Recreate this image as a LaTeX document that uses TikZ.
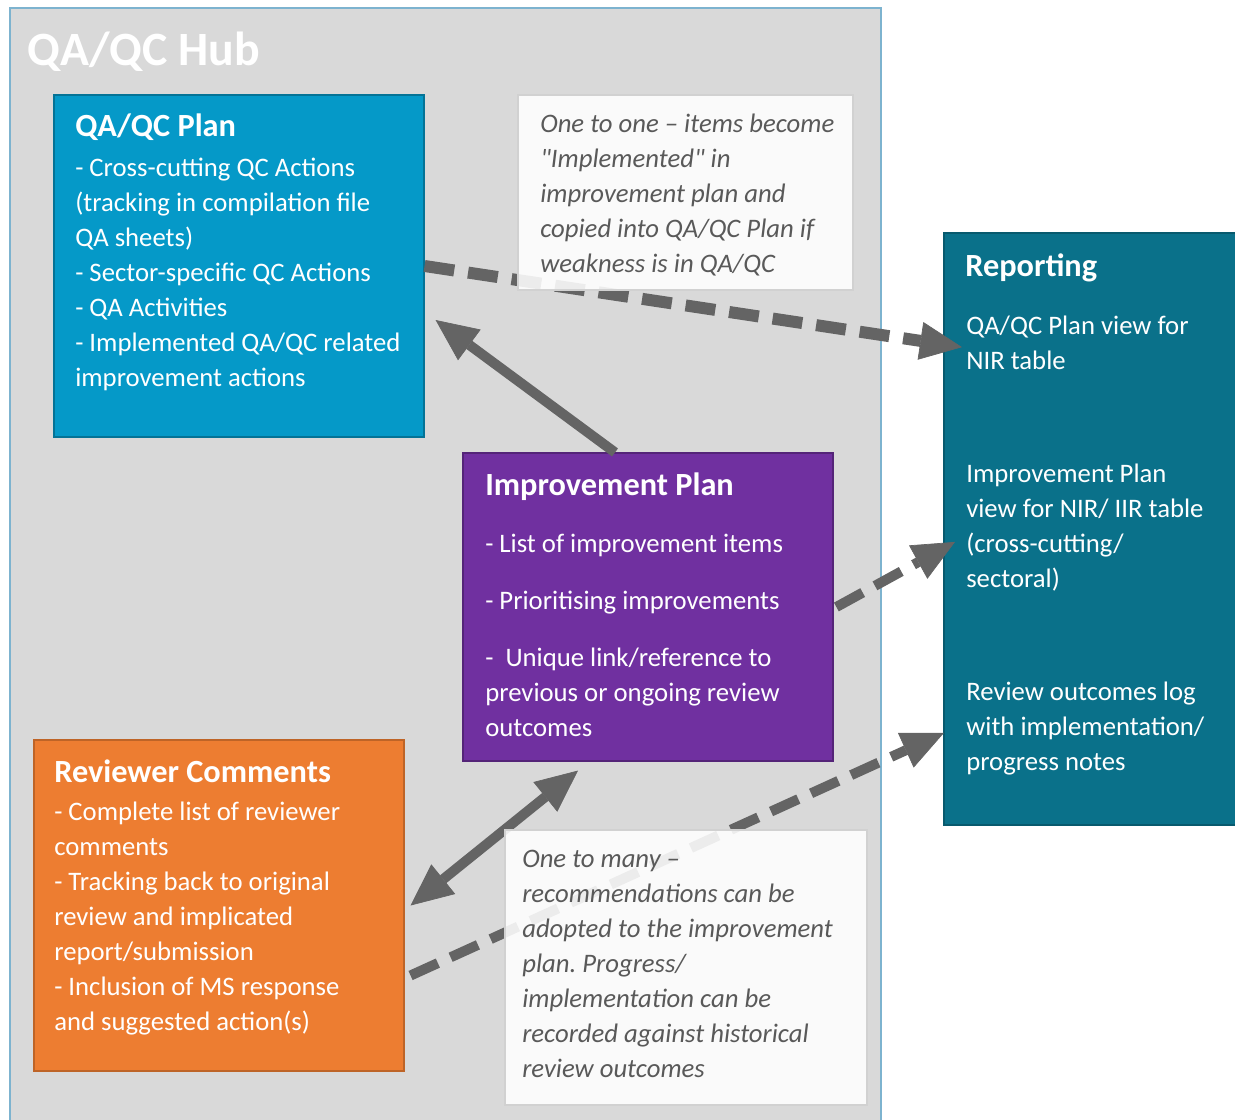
\documentclass[tikz,border=0pt]{standalone}
\usepackage{fontspec}
\setmainfont{Carlito}
\usetikzlibrary{positioning, arrows.meta}
\definecolor{hubgray}{HTML}{D9D9D9}
\definecolor{hubedge}{HTML}{7DB3CF}
\definecolor{planblue}{HTML}{0599C8}
\definecolor{improvepurple}{HTML}{7030A0}
\definecolor{revieworange}{HTML}{ED7D31}
\definecolor{reportteal}{HTML}{0A718A}
\definecolor{linkgray}{HTML}{646464}
\definecolor{notegray}{HTML}{595959}
\newcommand{\boxhead}[1]{{\fontsize{23}{24.9}\selectfont\bfseries #1}}
\frenchspacing

\begin{document}
\begin{tikzpicture}[
    >={Triangle[length=1.05cm, width=0.95cm, line width=0.5pt]},
    font=\fontsize{19}{24.9}\selectfont,
    panel/.style={rectangle, inner sep=0pt, line width=0.8pt},
    hub/.style={panel, fill=hubgray, draw=hubedge, line width=1pt,
        minimum width=21.775cm, minimum height=28cm},
    plan/.style={panel, fill=planblue, draw=planblue!75!black,
        minimum width=9.25cm, minimum height=8.55cm},
    improve/.style={panel, fill=improvepurple, draw=improvepurple!75!black,
        minimum width=9.25cm, minimum height=7.7cm},
    review/.style={panel, fill=revieworange, draw=revieworange!80!black,
        minimum width=9.25cm, minimum height=8.275cm},
    report/.style={panel, fill=reportteal, draw=reportteal!80!black,
        minimum width=7.525cm, minimum height=14.8cm},
    note/.style={panel, fill=white, fill opacity=0.88, draw=black!18},
    boxtext/.style={text=white, align=left, inner sep=0pt, anchor=north west},
    notetext/.style={text=notegray, align=left, inner sep=0pt, anchor=north west,
        font=\fontsize{19}{24.9}\selectfont\itshape},
    dashlink/.style={->, draw=linkgray, line width=0.3cm, dash pattern=on 0.75cm off 0.35cm},
    solidlink/.style={->, draw=linkgray, line width=0.25cm},
]
\useasboundingbox (0,0) rectangle (30.875,-28);

% ===== Hub background =====
\node[hub] (hub) at (11.1375, -14.2) {};
\node[text=white, inner sep=0pt, anchor=base west, font=\fontsize{34}{40}\selectfont\bfseries]
    (hubtitle) at (0.675, -1.625) {QA/QC Hub};

% ===== Boxes =====
\node[plan]    (plan) at (5.975, -6.65)   {};
\node[improve] (imp)  at (16.2, -15.175)  {};
\node[review]  (rev)  at (5.475, -22.6375) {};
\node[report]  (rep)  at (27.3625, -13.225) {};

\node[boxtext] (plantext) at (1.875, -2.85) {
    \boxhead{QA/QC Plan} \\[3.5pt]
    - Cross-cutting QC Actions \\
    (tracking in compilation file \\
    QA sheets) \\
    - Sector-specific QC Actions \\
    - QA Activities \\
    - Implemented QA/QC related \\
    improvement actions
};
\node[boxtext] (imptext) at (12.125, -11.825) {
    \boxhead{Improvement Plan} \\[15.5pt]
    - List of improvement items \\[15.5pt]
    - Prioritising improvements \\[15.5pt]
    -~ Unique link/reference to \\
    previous or ongoing review \\
    outcomes
};
\node[boxtext] (revtext) at (1.35, -19.0) {
    \boxhead{Reviewer Comments} \\[2pt]
    - Complete list of reviewer \\
    comments \\
    - Tracking back to original \\
    review and implicated \\
    report/submission \\
    - Inclusion of MS response \\
    and suggested action(s)
};

% ===== Reporting entries =====
\node[boxtext] (reptitle)    at (24.125, -6.325) {\boxhead{Reporting}};
\node[boxtext] (nirview)     at (24.15, -7.9)  {QA/QC Plan view for \\ NIR table};
\node[boxtext] (improveview) at (24.15, -11.6) {Improvement Plan \\ view for NIR/ IIR table \\ (cross-cutting/ \\ sectoral)};
\node[boxtext] (logview)     at (24.15, -17.05) {Review outcomes log \\ with implementation/ \\ progress notes};

% ===== Links =====
\draw[dashlink] (plan.east) -- ([xshift=-0.1cm, yshift=-0.1cm]nirview.west);
\draw[solidlink] ([xshift=-0.825cm]imp.north) -- ([xshift=0.275cm, yshift=-1.35cm]plan.east);
\draw[dashlink, line width=0.25cm] ([xshift=2pt]imp.east) -- ([xshift=-0.275cm, yshift=-0.35cm]improveview.west);
\draw[solidlink, <->] ([xshift=0.15cm]rev.east) -- ([xshift=-1.75cm, yshift=-0.225cm]imp.south);
\draw[dashlink, line width=0.25cm] ([xshift=0.15cm, yshift=-1.75cm]rev.east) -- ([xshift=-0.55cm, yshift=-0.1cm]logview.west);

% ===== Notes (over the links) =====
\node[note, minimum width=8.375cm, minimum height=4.875cm] (onenote) at (17.1375, -4.8125) {};
\node[notetext] (onenotetext) at (13.5, -2.85) {
    One to one -- items become \\
    \textquotedbl Implemented\textquotedbl\ in \\
    improvement plan and \\
    copied into QA/QC Plan if \\
    weakness is in QA/QC
};
\node[note, minimum width=9.05cm, minimum height=6.875cm] (manynote) at (17.15, -24.1875) {};
\node[notetext] (manynotetext) at (13.05, -21.25) {
    One to many -- \\
    recommendations can be \\
    adopted to the improvement \\
    plan. Progress/ \\
    implementation can be \\
    recorded against historical \\
    review outcomes
};

\end{tikzpicture}
\end{document}
